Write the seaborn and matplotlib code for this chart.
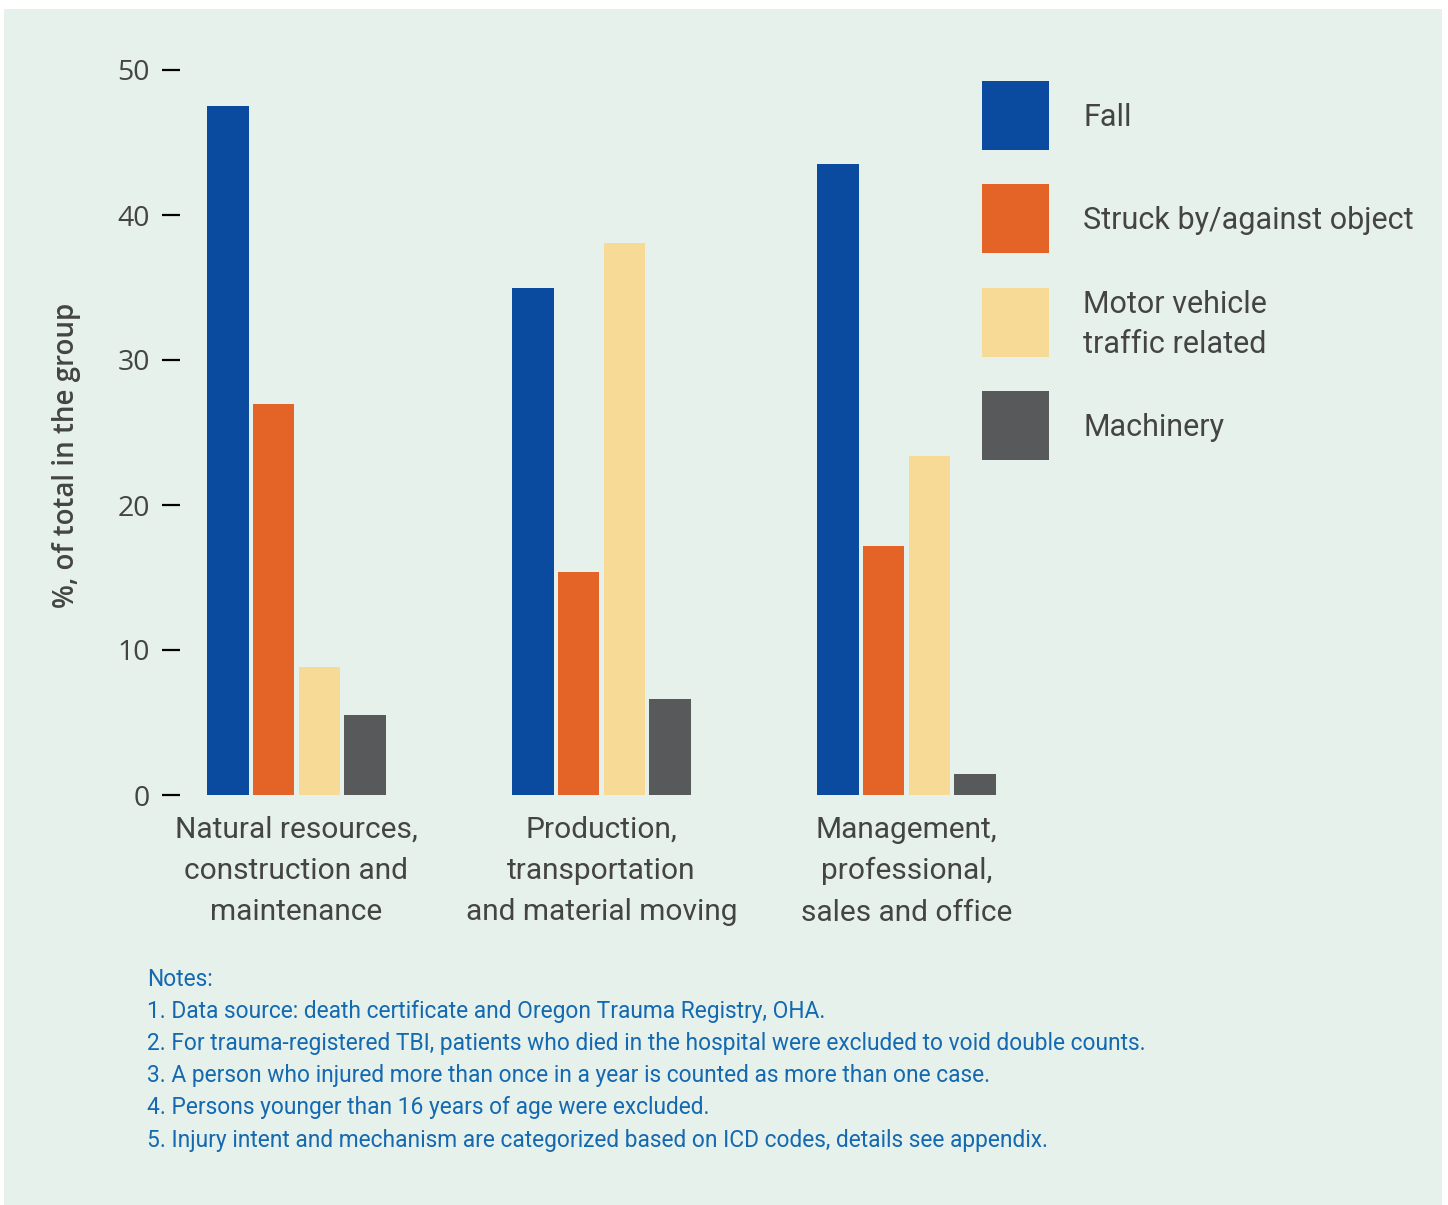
import matplotlib
matplotlib.use("Agg")
import matplotlib.pyplot as plt
from matplotlib import font_manager
from matplotlib.patches import Rectangle
import pandas as pd
import seaborn as sns

# Injury mechanism shares (% of total in each occupation group)
groups = [
    "Natural resources,\nconstruction and\nmaintenance",
    "Production,\ntransportation\nand material moving",
    "Management,\nprofessional,\nsales and office",
]
causes = ["Fall", "Struck by/against object", "Motor vehicle\ntraffic related", "Machinery"]
fall = [47.5, 35.0, 43.5]
struck = [27.0, 15.4, 17.2]
motor = [8.8, 38.1, 23.4]
machinery = [5.5, 6.6, 1.45]
yticks = [0, 10, 20, 30, 40, 50]

notes = [
    "Notes:",
    "1. Data source: death certificate and Oregon Trauma Registry, OHA.",
    "2. For trauma-registered TBI, patients who died in the hospital were excluded to void double counts.",
    "3. A person who injured more than once in a year is counted as more than one case.",
    "4. Persons younger than 16 years of age were excluded.",
    "5. Injury intent and mechanism are categorized based on ICD codes, details see appendix.",
]

colors = ["#0a4a9f", "#e36426", "#f7da95", "#58595b"]
bg = "#e6f1ec"
text_col = "#444444"
note_col = "#1469b0"

installed = {f.name for f in font_manager.fontManager.ttflist}
narrow = "Liberation Sans Narrow" if "Liberation Sans Narrow" in installed else "Roboto"
tick_font = "Open Sans"

rows = []
for vals, cause in zip([fall, struck, motor, machinery], causes):
    for g, v in zip(groups, vals):
        rows.append({"group": g, "cause": cause, "value": v})
df = pd.DataFrame(rows)

W, H = 1448, 1205
fig = plt.figure(figsize=(W / 100, H / 100), dpi=100)
fig.patch.set_facecolor("white")

# light panel behind the chart
fig.add_artist(Rectangle((4 / W, 0), (1442 - 4) / W, (1205 - 9) / H,
                         transform=fig.transFigure, facecolor=bg, edgecolor="none", zorder=0))

ax_left, ax_right = 180, 1000
ax_top, ax_bottom = 70, 795
ax = fig.add_axes([ax_left / W, (H - ax_bottom) / H, (ax_right - ax_left) / W, (ax_bottom - ax_top) / H])
ax.set_facecolor("none")

sns.barplot(data=df, x="group", y="value", hue="cause", hue_order=causes, order=groups,
            palette=colors, saturation=1, width=0.6, gap=0.09, legend=False, ax=ax,
            linewidth=0)

spacing = 305.0
c0 = 296.5
ax.set_xlim((ax_left - c0) / spacing, (ax_right - c0) / spacing)
ax.set_ylim(0, 50)
ax.set_yticks(yticks)
ax.set_yticklabels([str(t) for t in yticks], fontfamily=tick_font, fontsize=20.5, color=text_col)
ax.tick_params(axis="y", length=13, width=1.6, color="black", pad=8.5)
ax.tick_params(axis="x", length=0, pad=15)
for lab in ax.get_xticklabels():
    lab.set_fontfamily(narrow)
    lab.set_fontsize(21.5)
    lab.set_color(text_col)
    lab.set_linespacing(1.6)
for s in ax.spines.values():
    s.set_visible(False)
ax.set_xlabel("")
ax.set_ylabel("%, of total in the group", fontfamily=tick_font, fontsize=20,
              fontweight="semibold", color=text_col, labelpad=0)
ax.yaxis.set_label_coords((81 - ax_left) / (ax_right - ax_left), (ax_bottom - 455) / (ax_bottom - ax_top))

# legend
leg_x0, leg_w, leg_h = 982, 67, 69
leg_tops = [81, 184, 288, 391]
for cause, col, top in zip(causes, colors, leg_tops):
    fig.add_artist(Rectangle((leg_x0 / W, (H - top - leg_h) / H), leg_w / W, leg_h / H,
                             transform=fig.transFigure, facecolor=col, edgecolor="none"))
    fig.text(1083 / W, (H - top - leg_h / 2 - 2) / H, cause, fontfamily=narrow, fontsize=22,
             color=text_col, va="center", ha="left", linespacing=1.5)

# notes
for i, line in enumerate(notes):
    fig.text(147 / W, (H - 979 - 32.2 * i) / H, line, fontfamily=narrow, fontsize=16.4,
             color=note_col, va="center", ha="left")

fig.savefig("out.png", dpi=100, facecolor="white")
